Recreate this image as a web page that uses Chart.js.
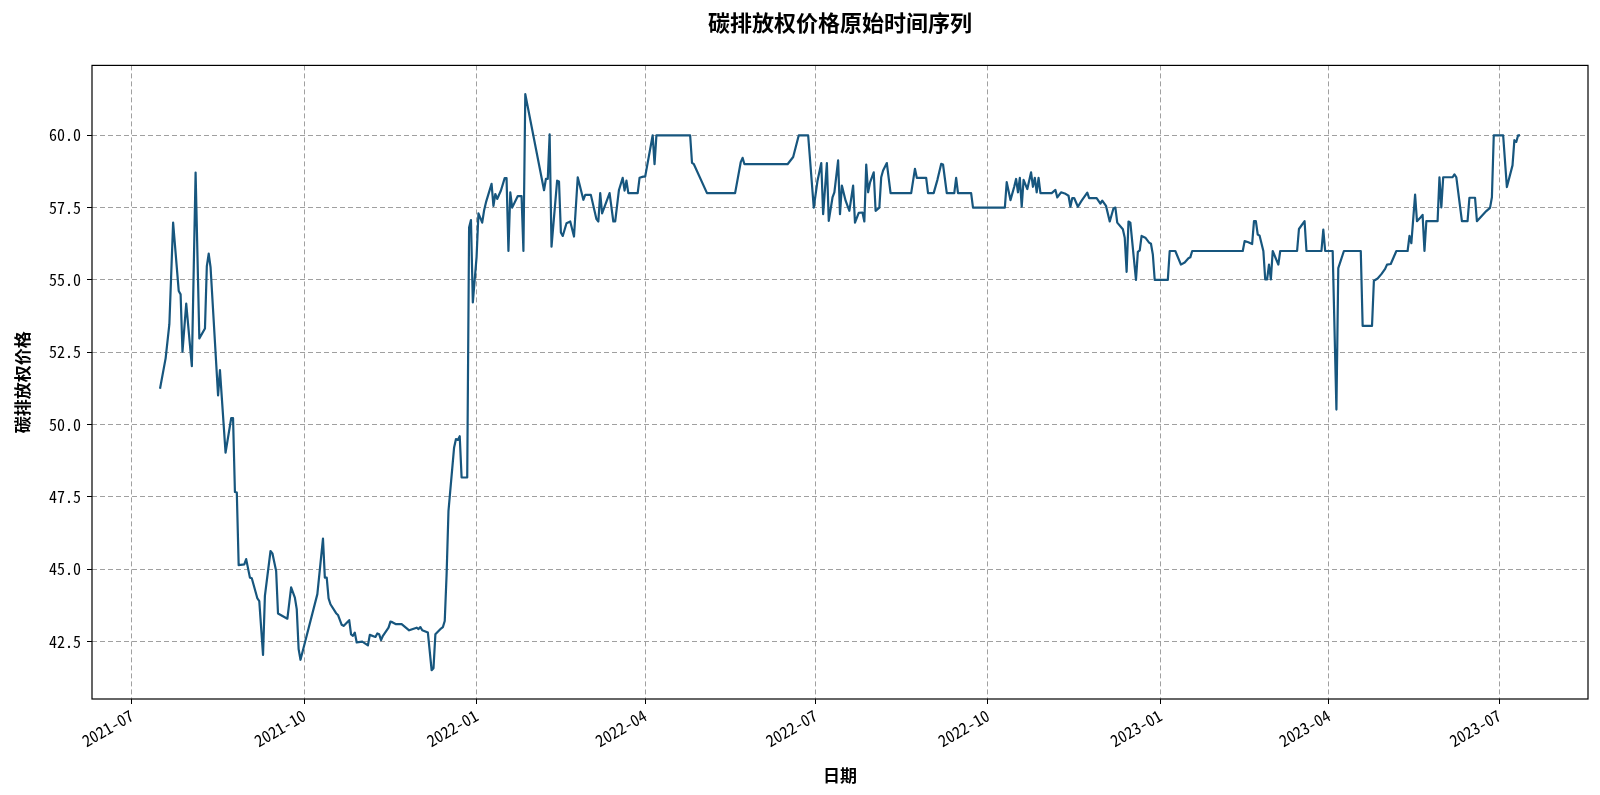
<!DOCTYPE html>
<html>
<head>
<meta charset="utf-8">
<script src="https://cdn.jsdelivr.net/npm/chart.js@4.4.1/dist/chart.umd.min.js"></script>
<style>
html, body { margin: 0; padding: 0; background: #fff; }
#contenedor { width: 1600px; height: 795px; }
</style>
</head>
<body>
<div id="contenedor"><canvas id="grafico" width="1600" height="795"></canvas></div>
<script>
// fechas y precios
const fechas = [
    '2021-07-16','2021-07-19','2021-07-21','2021-07-23','2021-07-26','2021-07-27','2021-07-28','2021-07-30',
    '2021-08-02','2021-08-04','2021-08-06','2021-08-09','2021-08-10','2021-08-11','2021-08-12','2021-08-16',
    '2021-08-17','2021-08-20','2021-08-23','2021-08-24','2021-08-25','2021-08-26','2021-08-27','2021-08-30',
    '2021-08-31','2021-09-02','2021-09-03','2021-09-06','2021-09-07','2021-09-09','2021-09-10','2021-09-13',
    '2021-09-14','2021-09-16','2021-09-17','2021-09-22','2021-09-24','2021-09-26','2021-09-27','2021-09-28',
    '2021-09-29','2021-10-08','2021-10-11','2021-10-12','2021-10-13','2021-10-14','2021-10-15','2021-10-18',
    '2021-10-19','2021-10-21','2021-10-22','2021-10-25','2021-10-26','2021-10-27','2021-10-28','2021-10-29',
    '2021-11-01','2021-11-04','2021-11-05','2021-11-08','2021-11-09','2021-11-10','2021-11-11','2021-11-12',
    '2021-11-15','2021-11-16','2021-11-17','2021-11-19','2021-11-22','2021-11-26','2021-11-30','2021-12-01',
    '2021-12-02','2021-12-03','2021-12-06','2021-12-08','2021-12-09','2021-12-10','2021-12-13','2021-12-14',
    '2021-12-15','2021-12-16','2021-12-17','2021-12-20','2021-12-21','2021-12-22','2021-12-23','2021-12-24',
    '2021-12-27','2021-12-28','2021-12-29','2021-12-30',
    '2022-01-01','2022-01-02','2022-01-04','2022-01-05','2022-01-06','2022-01-09','2022-01-10','2022-01-11',
    '2022-01-12','2022-01-14','2022-01-16','2022-01-17','2022-01-18','2022-01-19','2022-01-20','2022-01-23',
    '2022-01-25','2022-01-26','2022-01-27','2022-02-06','2022-02-07','2022-02-08','2022-02-09','2022-02-10',
    '2022-02-13','2022-02-14','2022-02-15','2022-02-16','2022-02-18','2022-02-20','2022-02-22','2022-02-24',
    '2022-02-27','2022-02-28','2022-03-03','2022-03-06','2022-03-07','2022-03-08','2022-03-09','2022-03-13',
    '2022-03-15','2022-03-16','2022-03-18','2022-03-20','2022-03-21','2022-03-22','2022-03-23','2022-03-28',
    '2022-03-29','2022-03-31','2022-04-01','2022-04-05','2022-04-06','2022-04-07','2022-04-25','2022-04-26',
    '2022-04-27','2022-05-04','2022-05-19','2022-05-22','2022-05-23','2022-05-24','2022-06-16','2022-06-19',
    '2022-06-22','2022-06-27','2022-06-30','2022-07-02','2022-07-04','2022-07-05','2022-07-07','2022-07-08',
    '2022-07-10','2022-07-11','2022-07-13','2022-07-14','2022-07-15','2022-07-17','2022-07-19','2022-07-21',
    '2022-07-22','2022-07-24','2022-07-26','2022-07-27','2022-07-28','2022-07-29','2022-07-30','2022-08-01',
    '2022-08-02','2022-08-04','2022-08-05','2022-08-06','2022-08-08','2022-08-10','2022-08-21','2022-08-23',
    '2022-08-24','2022-08-29','2022-08-30','2022-09-02','2022-09-04','2022-09-06','2022-09-07','2022-09-09',
    '2022-09-13','2022-09-14','2022-09-15','2022-09-22','2022-09-23','2022-10-10','2022-10-11','2022-10-13',
    '2022-10-15','2022-10-16','2022-10-17','2022-10-18','2022-10-19','2022-10-20','2022-10-22','2022-10-24',
    '2022-10-25','2022-10-26','2022-10-27','2022-10-28','2022-10-29','2022-11-04','2022-11-06','2022-11-07',
    '2022-11-09','2022-11-11','2022-11-13','2022-11-14','2022-11-15','2022-11-16','2022-11-18','2022-11-20',
    '2022-11-23','2022-11-24','2022-11-28','2022-11-30','2022-12-01','2022-12-03','2022-12-05','2022-12-07',
    '2022-12-08','2022-12-09','2022-12-12','2022-12-13','2022-12-14','2022-12-15','2022-12-16','2022-12-19',
    '2022-12-20','2022-12-21','2022-12-22','2022-12-24','2022-12-26','2022-12-27','2022-12-28','2022-12-29',
    '2023-01-05','2023-01-06','2023-01-09','2023-01-12','2023-01-14','2023-01-16','2023-01-17','2023-01-18',
    '2023-02-14','2023-02-15','2023-02-17','2023-02-19','2023-02-20','2023-02-21','2023-02-22','2023-02-23',
    '2023-02-25','2023-02-26','2023-02-27','2023-02-28','2023-03-01','2023-03-02','2023-03-05','2023-03-06',
    '2023-03-15','2023-03-16','2023-03-19','2023-03-20','2023-03-28','2023-03-29','2023-03-30','2023-04-03',
    '2023-04-05','2023-04-06','2023-04-09','2023-04-18','2023-04-19','2023-04-24','2023-04-25','2023-04-27',
    '2023-04-29','2023-05-01','2023-05-02','2023-05-04','2023-05-07','2023-05-13','2023-05-14','2023-05-15',
    '2023-05-17','2023-05-18','2023-05-20','2023-05-21','2023-05-22','2023-05-23','2023-05-29','2023-05-30',
    '2023-05-31','2023-06-01','2023-06-06','2023-06-07','2023-06-08','2023-06-11','2023-06-14','2023-06-15',
    '2023-06-18','2023-06-19','2023-06-24','2023-06-26','2023-06-27','2023-06-28','2023-07-03','2023-07-05',
    '2023-07-08','2023-07-09','2023-07-10','2023-07-11','2023-07-12'
];

const precios = [
    51.24, 52.29, 53.47, 56.98, 54.62, 54.50, 52.52, 54.18,
    52.02, 58.71, 52.98, 53.32, 55.48, 55.91, 55.43, 51.01,
    51.88, 49.03, 50.22, 50.22, 47.67, 47.65, 45.14, 45.17,
    45.35, 44.71, 44.69, 43.99, 43.90, 42.04, 44.08, 45.63,
    45.55, 44.94, 43.47, 43.29, 44.37, 44.02, 43.62, 42.24,
    41.87, 44.14, 46.06, 44.71, 44.71, 43.99, 43.79, 43.48,
    43.42, 43.08, 43.04, 43.24, 42.75, 42.70, 42.81, 42.47,
    42.50, 42.37, 42.73, 42.66, 42.78, 42.75, 42.55, 42.70,
    42.98, 43.19, 43.17, 43.10, 43.10, 42.89, 42.98, 42.93,
    43.00, 42.89, 42.81, 41.51, 41.58, 42.75, 42.95, 43.00,
    43.21, 44.83, 47.02, 49.21, 49.50, 49.47, 49.60, 48.17,
    48.17, 56.81, 57.07, 54.22,
    55.80, 57.30, 56.98, 57.40, 57.68, 58.32, 57.56, 57.97,
    57.80, 58.09, 58.52, 58.52, 56.00, 58.03, 57.50, 57.90,
    57.90, 56.00, 61.42, 58.10, 58.49, 58.49, 60.03, 56.15,
    58.43, 58.40, 56.64, 56.52, 56.96, 57.02, 56.50, 58.55,
    57.77, 57.94, 57.94, 57.10, 57.02, 58.00, 57.30, 58.00,
    57.02, 57.02, 58.11, 58.53, 58.09, 58.43, 58.00, 58.00,
    58.53, 58.57, 58.57, 60.00, 59.00, 60.00, 60.00, 59.05,
    59.00, 58.00, 58.00, 59.07, 59.22, 59.00, 59.00, 59.25,
    60.00, 60.00, 57.50, 58.43, 59.04, 57.27, 59.04, 57.04,
    57.85, 58.03, 59.13, 57.27, 58.26, 57.74, 57.39, 58.26,
    56.98, 57.32, 57.33, 57.02, 58.99, 58.03, 58.36, 58.72,
    57.39, 57.50, 58.55, 58.78, 59.04, 58.00, 58.00, 58.84,
    58.53, 58.53, 58.00, 58.00, 58.46, 59.01, 58.99, 58.00,
    58.00, 58.53, 58.00, 58.00, 57.50, 57.50, 58.38, 57.76,
    58.22, 58.49, 58.03, 58.53, 57.53, 58.46, 58.14, 58.72,
    58.22, 58.53, 58.03, 58.53, 58.00, 58.00, 58.11, 57.85,
    58.03, 57.99, 57.91, 57.53, 57.83, 57.83, 57.53, 57.74,
    58.02, 57.83, 57.83, 57.64, 57.74, 57.56, 57.02, 57.48,
    57.50, 56.98, 56.75, 56.46, 55.28, 57.02, 56.98, 55.00,
    55.97, 56.02, 56.52, 56.46, 56.29, 56.25, 55.88, 55.00,
    55.00, 56.00, 56.00, 55.53, 55.60, 55.75, 55.78, 56.00,
    56.00, 56.34, 56.30, 56.24, 57.03, 57.03, 56.57, 56.53,
    56.00, 55.02, 55.02, 55.53, 55.02, 56.00, 55.53, 56.00,
    56.00, 56.76, 57.03, 56.00, 56.00, 56.74, 56.00, 56.00,
    50.52, 55.41, 56.00, 56.00, 53.41, 53.41, 54.97, 55.05,
    55.20, 55.38, 55.53, 55.55, 56.00, 56.00, 56.52, 56.27,
    57.95, 57.03, 57.17, 57.25, 56.00, 57.03, 57.03, 58.55,
    57.51, 58.55, 58.55, 58.65, 58.55, 57.03, 57.03, 57.84,
    57.84, 57.03, 57.38, 57.49, 57.86, 60.00, 60.00, 58.21,
    58.96, 59.83, 59.77, 60.00, 60.00
];

const ticksFecha = ['2021-07-01','2021-10-01','2022-01-01','2022-04-01','2022-07-01',
                    '2022-10-01','2023-01-01','2023-04-01','2023-07-01'];
const ticksPrecio = [42.5, 45.0, 47.5, 50.0, 52.5, 55.0, 57.5, 60.0];

const fuente = "'Noto Sans CJK SC', 'Noto Sans', sans-serif";
const fuenteTicks = "'Noto Sans Mono CJK SC', 'Noto Sans CJK SC', sans-serif";

window.onload = function() {
    graficarSerie();
};

function graficarSerie() {
    const tiempos = fechas.map(f => Date.parse(f));
    const puntos = tiempos.map((t, i) => ({ x: t, y: precios[i] }));

    // margen del 5% como matplotlib
    const tMin = Math.min(...tiempos), tMax = Math.max(...tiempos);
    const pMin = Math.min(...precios), pMax = Math.max(...precios);
    const mx = (tMax - tMin) * 0.05;
    const my = (pMax - pMin) * 0.05;

    const marco = {
        id: 'marco',
        afterDatasetsDraw(chart) {
            const { ctx, chartArea: a } = chart;
            ctx.save();
            ctx.strokeStyle = '#000';
            ctx.lineWidth = 1.2;
            ctx.strokeRect(a.left, a.top, a.right - a.left, a.bottom - a.top);
            ctx.restore();
        }
    };

    const rejilla = {
        color: '#a0a0a0',
        lineWidth: 1,
        tickColor: '#000',
        tickLength: 5,
        tickBorderDash: []
    };

    new Chart(document.getElementById('grafico'), {
        type: 'line',
        data: {
            datasets: [{
                label: '碳排放权价格',
                data: puntos,
                borderColor: '#17567e',
                borderWidth: 2.2,
                borderJoinStyle: 'round',
                pointRadius: 0,
                tension: 0,
                fill: false
            }]
        },
        options: {
            responsive: false,
            devicePixelRatio: 1,
            animation: false,
            layout: { padding: { left: 0, right: 12, top: 0, bottom: 0 } },
            plugins: {
                legend: { display: false },
                tooltip: { enabled: false },
                title: {
                    display: true,
                    fullSize: false,
                    text: '碳排放权价格原始时间序列',
                    color: '#000',
                    font: { family: fuente, size: 22, weight: 'bold' },
                    padding: { top: 9, bottom: 30 }
                }
            },
            scales: {
                x: {
                    type: 'linear',
                    min: tMin - mx,
                    max: tMax + mx,
                    afterBuildTicks: s => { s.ticks = ticksFecha.map(f => ({ value: Date.parse(f) })); },
                    afterFit: s => { s.height = 96; },
                    ticks: {
                        autoSkip: false,
                        minRotation: 30,
                        maxRotation: 30,
                        padding: 2,
                        color: '#000',
                        font: { family: fuenteTicks, size: 16 },
                        callback: v => new Date(v).toISOString().slice(0, 7)
                    },
                    grid: rejilla,
                    border: { display: false, dash: [5, 3] },
                    title: {
                        display: true,
                        text: '日期',
                        color: '#000',
                        font: { family: fuente, size: 17, weight: 'bold' },
                        padding: { top: 0, bottom: 9 }
                    }
                },
                y: {
                    type: 'linear',
                    min: pMin - my,
                    max: pMax + my,
                    afterBuildTicks: s => { s.ticks = ticksPrecio.map(v => ({ value: v })); },
                    afterFit: s => { s.width = 92; },
                    ticks: {
                        padding: 6,
                        color: '#000',
                        font: { family: fuenteTicks, size: 16 },
                        callback: v => v.toFixed(1)
                    },
                    grid: rejilla,
                    border: { display: false, dash: [5, 3] },
                    title: {
                        display: true,
                        text: '碳排放权价格',
                        color: '#000',
                        font: { family: fuente, size: 17, weight: 'bold' },
                        padding: { top: 12, bottom: 0 }
                    }
                }
            }
        },
        plugins: [marco]
    });
}
</script>
</body>
</html>
